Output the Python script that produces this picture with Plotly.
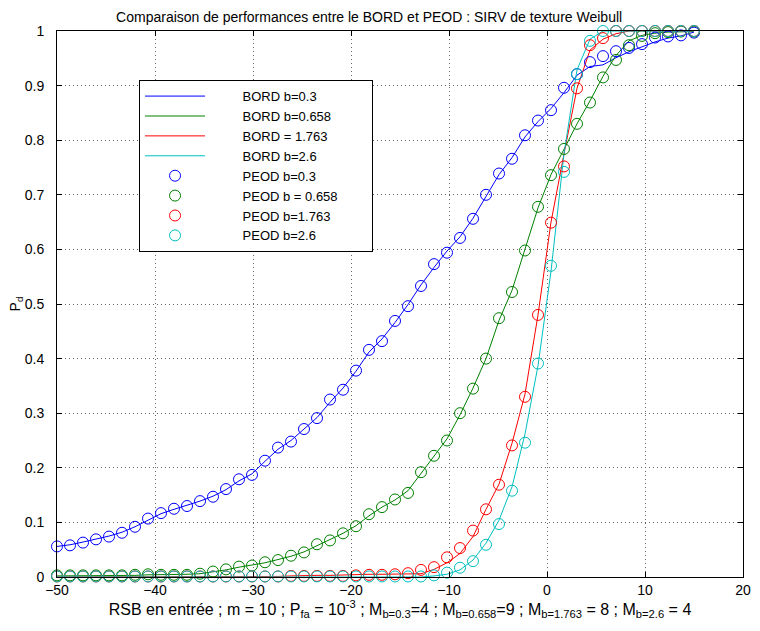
import numpy as np
import plotly.graph_objects as go

# RSB grid (dB), 50 points from -50 to 15
rsb = np.linspace(-50, 15, 50)

# BORD (lines)
bord_03 = [0.056, 0.059, 0.064, 0.069, 0.075, 0.082, 0.092, 0.104, 0.116, 0.124,
           0.131, 0.139, 0.148, 0.160, 0.176, 0.189, 0.212, 0.234, 0.250, 0.271,
           0.292, 0.320, 0.346, 0.377, 0.412, 0.436, 0.466, 0.499, 0.535, 0.567,
           0.597, 0.623, 0.657, 0.697, 0.737, 0.768, 0.806, 0.834, 0.858, 0.887,
           0.919, 0.935, 0.938, 0.951, 0.962, 0.971, 0.980, 0.987, 0.991, 0.998]
bord_0658 = [0.002, 0.002, 0.002, 0.002, 0.003, 0.003, 0.003, 0.004, 0.004, 0.004,
             0.005, 0.006, 0.009, 0.013, 0.018, 0.022, 0.026, 0.032, 0.038, 0.046,
             0.057, 0.068, 0.080, 0.094, 0.112, 0.128, 0.141, 0.158, 0.190, 0.222,
             0.253, 0.297, 0.346, 0.400, 0.470, 0.525, 0.600, 0.676, 0.737, 0.784,
             0.830, 0.872, 0.917, 0.955, 0.982, 0.992, 0.996, 0.998, 0.999, 0.999]
bord_1763 = [0.000, 0.000, 0.000, 0.000, 0.000, 0.000, 0.000, 0.000, 0.000, 0.000,
             0.000, 0.000, 0.000, 0.000, 0.000, 0.000, 0.001, 0.001, 0.002, 0.003,
             0.003, 0.003, 0.004, 0.004, 0.005, 0.005, 0.005, 0.005, 0.006, 0.014,
             0.026, 0.043, 0.074, 0.124, 0.170, 0.245, 0.335, 0.480, 0.650, 0.775,
             0.895, 0.965, 0.985, 0.995, 1.000, 1.000, 1.000, 1.000, 1.000, 1.000]
bord_26 = [0.000, 0.000, 0.000, 0.000, 0.000, 0.000, 0.000, 0.000, 0.000, 0.000,
           0.000, 0.000, 0.000, 0.000, 0.000, 0.000, 0.000, 0.000, 0.000, 0.000,
           0.000, 0.000, 0.000, 0.000, 0.000, 0.000, 0.000, 0.000, 0.000, 0.002,
           0.005, 0.013, 0.031, 0.062, 0.104, 0.165, 0.262, 0.387, 0.560, 0.775,
           0.929, 0.985, 1.000, 1.000, 1.000, 1.000, 1.000, 1.000, 1.000, 1.000]

# PEOD (markers)
peod_03 = [0.056, 0.058, 0.063, 0.069, 0.074, 0.081, 0.092, 0.107, 0.117, 0.125,
           0.130, 0.139, 0.147, 0.161, 0.179, 0.187, 0.213, 0.237, 0.248, 0.271,
           0.291, 0.325, 0.343, 0.378, 0.416, 0.432, 0.469, 0.496, 0.533, 0.573,
           0.594, 0.621, 0.656, 0.700, 0.739, 0.766, 0.809, 0.836, 0.855, 0.896,
           0.921, 0.943, 0.954, 0.963, 0.969, 0.976, 0.988, 0.990, 0.992, 0.997]
peod_0658 = [0.003, 0.003, 0.003, 0.003, 0.003, 0.003, 0.004, 0.005, 0.004, 0.004,
             0.004, 0.006, 0.010, 0.014, 0.019, 0.021, 0.027, 0.031, 0.039, 0.045,
             0.060, 0.067, 0.080, 0.093, 0.115, 0.128, 0.142, 0.154, 0.192, 0.222,
             0.250, 0.300, 0.345, 0.400, 0.474, 0.522, 0.598, 0.678, 0.736, 0.784,
             0.830, 0.869, 0.915, 0.947, 0.974, 0.991, 0.996, 0.998, 0.999, 0.999]
peod_1763 = [0.001, 0.001, 0.001, 0.001, 0.001, 0.001, 0.001, 0.001, 0.001, 0.001,
             0.001, 0.001, 0.001, 0.001, 0.001, 0.001, 0.001, 0.001, 0.002, 0.002,
             0.002, 0.002, 0.002, 0.003, 0.004, 0.004, 0.005, 0.007, 0.013, 0.018,
             0.036, 0.053, 0.085, 0.124, 0.169, 0.241, 0.330, 0.480, 0.649, 0.752,
             0.895, 0.974, 0.987, 1.000, 1.000, 1.000, 1.000, 1.000, 1.000, 1.000]
peod_26 = [0.001, 0.001, 0.001, 0.001, 0.001, 0.001, 0.001, 0.001, 0.001, 0.001,
           0.001, 0.001, 0.001, 0.001, 0.001, 0.001, 0.001, 0.001, 0.001, 0.001,
           0.001, 0.001, 0.001, 0.001, 0.001, 0.001, 0.001, 0.001, 0.001, 0.003,
           0.008, 0.017, 0.029, 0.059, 0.097, 0.158, 0.246, 0.391, 0.570, 0.742,
           0.921, 0.982, 1.000, 1.000, 1.000, 1.000, 1.000, 1.000, 1.000, 1.000]

colors = ['#0000ff', '#008000', '#ff0000', '#00bfbf']
bord_names = ['BORD b=0.3', 'BORD b=0.658', 'BORD = 1.763', 'BORD b=2.6']
peod_names = ['PEOD b=0.3', 'PEOD b = 0.658', 'PEOD b=1.763', 'PEOD b=2.6']

# legend text sits well right of the symbol in the original
pad = '\u00a0' * 9
tail = '\u00a0' * 8

fig = go.Figure()

for ys, name, c in zip([bord_03, bord_0658, bord_1763, bord_26], bord_names, colors):
    fig.add_trace(go.Scatter(x=rsb, y=ys, mode='lines', name=pad + name,
                             line=dict(color=c, width=1)))

for ys, name, c in zip([peod_03, peod_0658, peod_1763, peod_26], peod_names, colors):
    label = pad + name + (tail if name == 'PEOD b = 0.658' else '')
    fig.add_trace(go.Scatter(x=rsb, y=ys, mode='markers', name=label, cliponaxis=False,
                             marker=dict(symbol='circle-open', size=11, color=c,
                                         line=dict(width=1, color=c))))

axis_style = dict(showline=True, linecolor='black', linewidth=1, mirror='ticks',
                  ticks='inside', ticklen=5, tickcolor='black',
                  showgrid=True, gridcolor='#666666', griddash='1px,3px', gridwidth=1,
                  zeroline=False, tickfont=dict(size=14, color='black'))

fig.update_layout(
    width=752, height=623,
    margin=dict(l=49, r=9, t=23, b=54),
    paper_bgcolor='white', plot_bgcolor='white',
    font=dict(family='Liberation Sans, Arial, sans-serif', color='black'),
    title=dict(text='Comparaison de performances entre le BORD et PEOD : SIRV de texture Weibull',
               x=0.455, xref='paper', xanchor='center', y=0.986, yanchor='middle',
               font=dict(size=14)),
    xaxis=dict(range=[-50, 20], dtick=10,
               title=dict(text='RSB en entrée ; m = 10 ; P<sub>fa</sub> = 10<sup>-3</sup> ; '
                               'M<sub>b=0.3</sub>=4 ; M<sub>b=0.658</sub>=9 ; '
                               'M<sub>b=1.763</sub> = 8 ; M<sub>b=2.6</sub> = 4',
                          font=dict(size=16), standoff=5),
               **axis_style),
    yaxis=dict(range=[0, 1], dtick=0.1, ticklabelstandoff=9, **axis_style),
    legend=dict(x=0.1196, y=0.910, xanchor='left', yanchor='top',
                bgcolor='white', bordercolor='black', borderwidth=1,
                font=dict(size=13), itemwidth=60, tracegroupgap=0),
    annotations=[dict(text='P<sub>d</sub>', xref='paper', yref='paper',
                      x=-0.0591, y=0.5, xanchor='center', yanchor='middle',
                      textangle=-90, showarrow=False, font=dict(size=14))],
)

fig.write_html("out.html")
